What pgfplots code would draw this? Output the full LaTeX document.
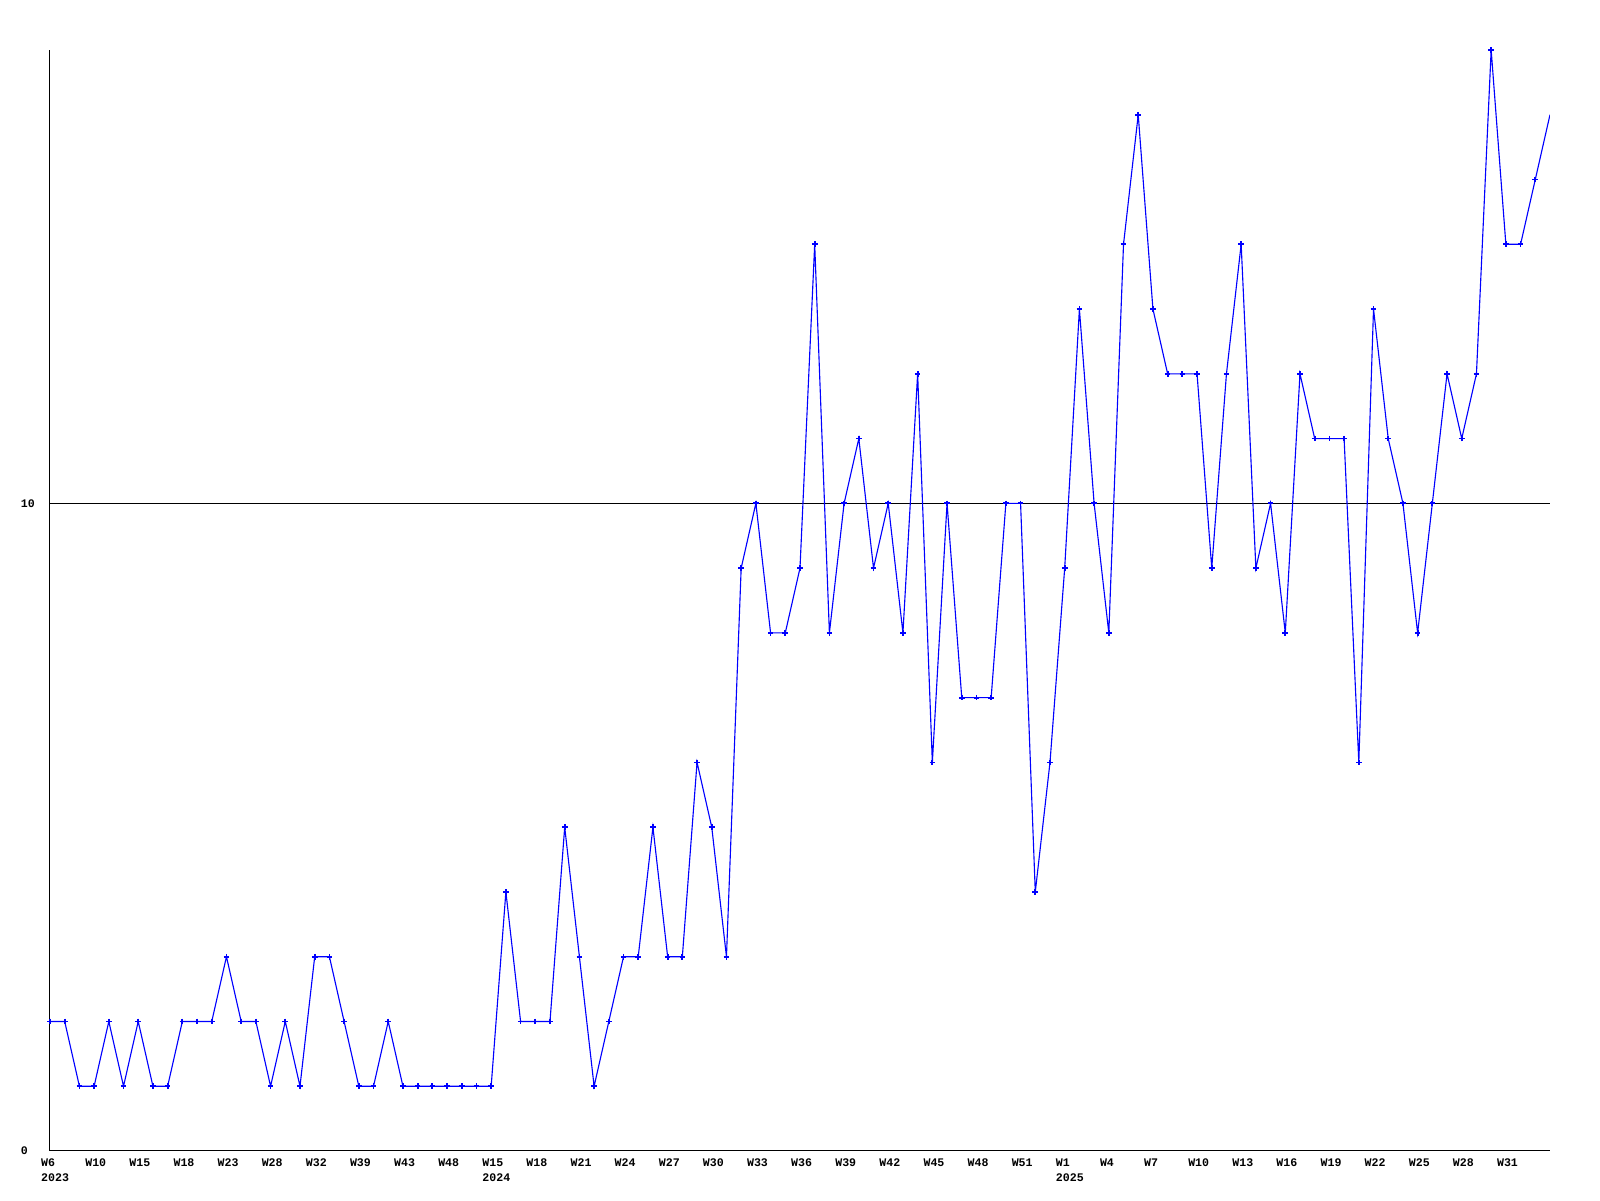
\documentclass[border=0pt]{standalone}
\usepackage{pgfplots}
\usepackage{pgfplotstable}
\pgfplotsset{compat=1.18}
\usepackage{fontspec}
\setmainfont{Liberation Mono}
\pgfplotstableread{
x y
0 2
1 2
2 1
3 1
4 2
5 1
6 2
7 1
8 1
9 2
10 2
11 2
12 3
13 2
14 2
15 1
16 2
17 1
18 3
19 3
20 2
21 1
22 1
23 2
24 1
25 1
26 1
27 1
28 1
29 1
30 1
31 4
32 2
33 2
34 2
35 5
36 3
37 1
38 2
39 3
40 3
41 5
42 3
43 3
44 6
45 5
46 3
47 9
48 10
49 8
50 8
51 9
52 14
53 8
54 10
55 11
56 9
57 10
58 8
59 12
60 6
61 10
62 7
63 7
64 7
65 10
66 10
67 4
68 6
69 9
70 13
71 10
72 8
73 14
74 16
75 13
76 12
77 12
78 12
79 9
80 12
81 14
82 9
83 10
84 8
85 12
86 11
87 11
88 11
89 6
90 13
91 11
92 10
93 8
94 10
95 12
96 11
97 12
98 17
99 14
100 14
101 15
102 16
}\datatable
\begin{document}
\begin{tikzpicture}
\useasboundingbox (-12.5pt,-12.5pt) rectangle (387.5pt,287.75pt);
\begin{axis}[at={(0,0)}, anchor=south west, scale only axis,
  width=375pt, height=275.25pt,
  xmin=0, xmax=102, ymin=0, ymax=17,
  axis x line=bottom, axis y line=left,
  axis line style={-, black, line width=0.25pt},
  xtick={0,3,...,99},
  xticklabels={{W6\\2023},W10,W15,W18,W23,W28,W32,W39,W43,W48,{W15\\2024},W18,W21,W24,W27,W30,W33,W36,W39,W42,W45,W48,W51,{W1\\2025},W4,W7,W10,W13,W16,W19,W22,W25,W28,W31},
  ytick={0,10}, yticklabels={0,10},
  ymajorgrids, grid style={black, line width=0.25pt},
  major tick length=0pt,
  xticklabel style={anchor=north west, align=left, inner sep=0pt, xshift=-2.4pt, yshift=-1.8pt,
    font=\fontsize{2.9}{3.75}\selectfont\bfseries},
  yticklabel style={anchor=west, inner sep=0pt, xshift=-7.5pt,
    font=\fontsize{2.9}{3.75}\selectfont\bfseries},
  clip=true]
\addplot[blue, line width=0.28pt, mark=none] table[x=x, y=y] {\datatable};
\addplot[blue, only marks, mark=+, mark size=0.7pt, mark options={line width=0.45pt},
  restrict x to domain=0:101] table[x=x, y=y] {\datatable};
\end{axis}
\end{tikzpicture}
\end{document}
